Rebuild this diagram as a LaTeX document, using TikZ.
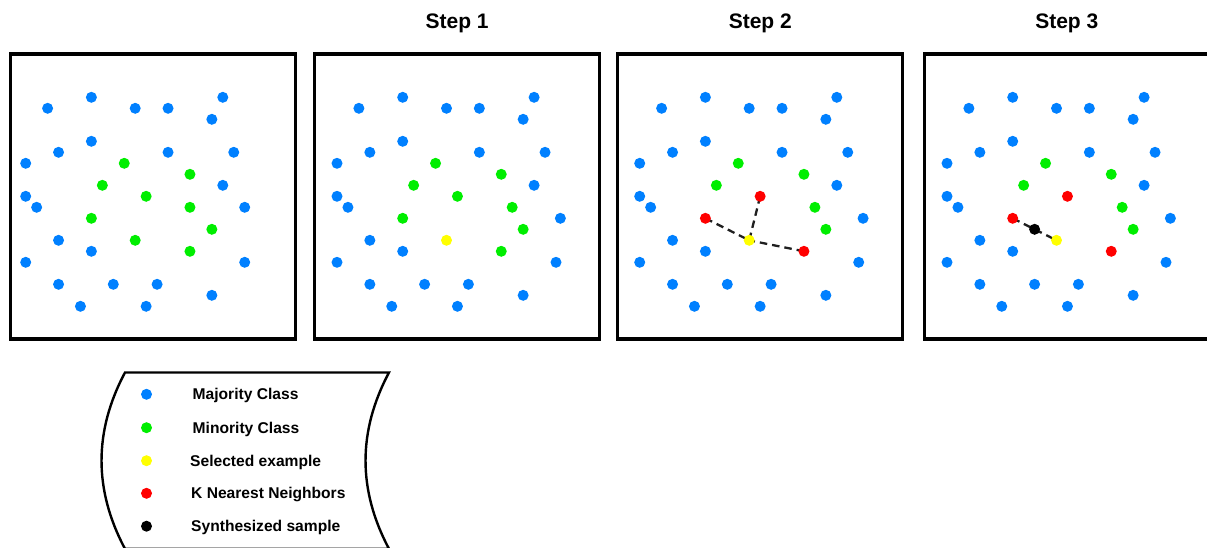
\documentclass[tikz,border=0pt]{standalone}
\usepackage{fontspec}
\setmainfont{Liberation Sans}
\usetikzlibrary{backgrounds}

\definecolor{majblue}{RGB}{0,128,255}
\definecolor{mingreen}{RGB}{0,238,0}
\definecolor{selyellow}{RGB}{255,255,0}
\definecolor{knnred}{RGB}{255,0,0}

% majority points shared by every panel (grid column / grid row)
\def\bluecommon{2/1,6/0,10/1,13/1,18/0,17/2,6/4,3/5,13/5,19/5,0/6,18/8,0/9,1/10,3/13,6/14,0/15,20/15,3/17,8/17,12/17,17/18,5/19,11/19}
% minority points that keep their colour in every step
\def\greencommon{9/6,15/7,7/8,16/10,17/12}

\begin{document}
\begin{tikzpicture}[x=1pt,y=-1pt,
  dot/.style={circle,inner sep=0pt,minimum size=11pt},
  bdot/.style={dot,fill=majblue},
  gdot/.style={dot,fill=mingreen},
  ydot/.style={dot,fill=selyellow},
  rdot/.style={dot,fill=knnred},
  kdot/.style={dot,fill=black},
  frame/.style={draw=black,line width=3.2pt,minimum size=285pt,inner sep=0pt},
  title/.style={font=\fontsize{21}{24}\selectfont\bfseries,anchor=base,inner sep=0pt},
  legtext/.style={font=\fontsize{15.6}{18}\selectfont\bfseries,anchor=base west,inner sep=0pt},
  knn/.style={draw=black!88,line width=2.3pt,dash pattern=on 7.5pt off 5pt}]

\useasboundingbox (0,0) rectangle (1207,547);

% panel frames
\node[frame] (fa) at (152.65,196.5) {};
\node[frame] (fb) at (457.15,196.5) {};
\node[frame] (fc) at (760.3,196.5) {};
\node[frame] (fd) at (1066.8,196.5) {};

% titles
\node[title] (tb) at (457.15,28.8) {Step 1};
\node[title] (tc) at (760.3,28.8) {Step 2};
\node[title] (td) at (1066.8,28.8) {Step 3};

% ---- original data set
\foreach[count=\k] \c/\r in \bluecommon
  \node[bdot] (a-b\k) at ({25.7+\c*10.95},{97.3+\r*11}) {};
\node[bdot] (a-b25) at ({25.7+20*10.95},{97.3+10*11}) {};
\foreach[count=\k] \c/\r in {9/6,15/7,7/8,11/9,15/10,6/11,17/12,10/13,15/14}
  \node[gdot] (a-g\k) at ({25.7+\c*10.95},{97.3+\r*11}) {};

% ---- steps 1 to 3 share the same majority points
\foreach \p/\ox in {b/337,c/639.7,d/947}{
  \foreach[count=\k] \c/\r in \bluecommon
    \node[bdot] (\p-b\k) at ({\ox+\c*10.95},{97.3+\r*11}) {};
  \node[bdot] (\p-b25) at ({\ox+20.4*10.95},{97.3+11*11}) {};
  \foreach[count=\k] \c/\r in \greencommon
    \node[gdot] (\p-g\k) at ({\ox+\c*10.95},{97.3+\r*11}) {};
  \node[ydot] (\p-y) at ({\ox+10*10.95},{97.3+13*11}) {};
}

% step 1: the remaining minority points
\foreach[count=\k] \c/\r in {11/9,6/11,15/14}
  \node[gdot] (b-m\k) at ({337+\c*10.95},{97.3+\r*11}) {};

% steps 2 and 3: nearest neighbours
\foreach \p/\ox in {c/639.7,d/947}
  \foreach[count=\k] \c/\r in {11/9,6/11,15/14}
    \node[rdot] (\p-r\k) at ({\ox+\c*10.95},{97.3+\r*11}) {};

% step 3: synthesized sample
\node[kdot] (d-s) at ({947+8*10.95},{97.3+12*11}) {};

% neighbour links
\begin{scope}[on background layer]
  \draw[knn] (c-r1.center) -- (c-y.center);
  \draw[knn] (c-r2.center) -- (c-y.center);
  \draw[knn] (c-r3.center) -- (c-y.center);
  \draw[knn] (d-r2.center) -- (d-y.center);
\end{scope}

% ---- legend
\draw[line width=2.4pt] (125,372.5) -- (389,372.5)
  .. controls (357.7,431.3) and (357.7,490) .. (389,548.8)
  -- (125,548.8)
  .. controls (93.7,490) and (93.7,431.3) .. (125,372.5) -- cycle;

\node[bdot] (l1) at (146.5,394.3) {};
\node[gdot] (l2) at (146.5,427.7) {};
\node[ydot] (l3) at (146.5,460.7) {};
\node[rdot] (l4) at (146.5,493.3) {};
\node[kdot] (l5) at (146.5,526.2) {};

\node[legtext] (lt1) at (192.5,399.8) {Majority Class};
\node[legtext] (lt2) at (192.5,433.2) {Minority Class};
\node[legtext] (lt3) at (190,466.2) {Selected example};
\node[legtext] (lt4) at (191,498.8) {K Nearest Neighbors};
\node[legtext] (lt5) at (191,531.7) {Synthesized sample};

\end{tikzpicture}
\end{document}
